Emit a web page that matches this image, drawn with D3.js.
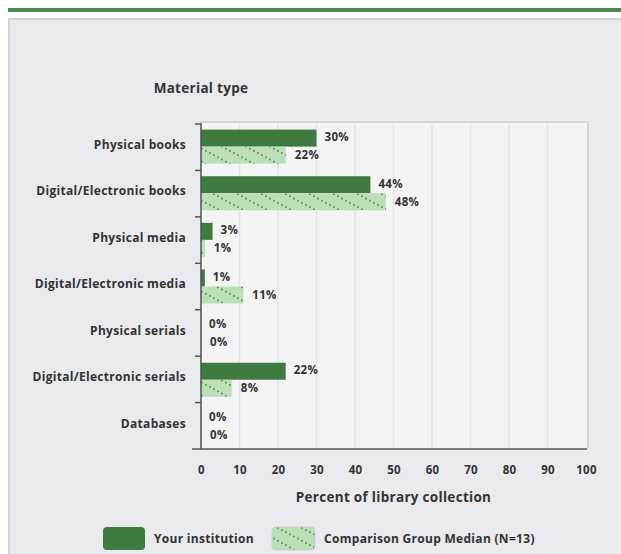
<!DOCTYPE html>
<html>
<head>
<meta charset="utf-8">
<script src="https://d3js.org/d3.v7.min.js"></script>
<style>
  body { margin: 0; background: #fff; }
  text { font-family: "Open Sans", Lato, sans-serif; font-weight: bold; fill: #333; letter-spacing: 0.3px; }
</style>
</head>
<body>
<script>
var categories = ["Physical books", "Digital/Electronic books", "Physical media",
  "Digital/Electronic media", "Physical serials", "Digital/Electronic serials", "Databases"];
var yourInstitution = [30, 44, 3, 1, 0, 22, 0];
var groupMedian = [22, 48, 1, 11, 0, 8, 0];
var xTicks = [0, 10, 20, 30, 40, 50, 60, 70, 80, 90, 100];
var seriesNames = ["Your institution", "Comparison Group Median (N=13)"];

var W = 621, H = 554;
var dark = "#3f7a40", light = "#bcdeb8";
var font = "'Open Sans', Lato, sans-serif";

var svg = d3.select("body").append("svg")
  .attr("width", W).attr("height", H);

// dotted diagonal hatch for comparison bars
var defs = svg.append("defs");
var pat = defs.append("pattern")
  .attr("id", "hatch").attr("patternUnits", "userSpaceOnUse")
  .attr("width", 24).attr("height", 13);
pat.append("rect").attr("width", 24).attr("height", 13).attr("fill", light);
d3.range(6).forEach(function(k) {
  pat.append("rect").attr("x", k * 4 + 1).attr("y", k * 13 / 6 + 0.5)
    .attr("width", 1.7).attr("height", 1.7).attr("fill", "#52914e");
});

// top green rule and panel
svg.append("rect").attr("x", 8).attr("y", 8).attr("width", W - 8).attr("height", 4).attr("fill", "#4e8a50");
svg.append("rect").attr("x", 8).attr("y", 18).attr("width", W - 8).attr("height", H - 18).attr("fill", "#d2d3d6");
svg.append("rect").attr("x", 10).attr("y", 20).attr("width", W - 10).attr("height", H - 20).attr("fill", "#e9eaee");

var pL = 201, pR = 586, pT = 124, pB = 449;

var x = d3.scaleLinear().domain([0, 100]).range([pL, pR]);
var y = d3.scaleBand().domain(categories).range([pT, pB]).paddingInner(0.27).paddingOuter(0.12);

// plot area
svg.append("rect").attr("x", pL - 1).attr("y", pT - 3).attr("width", pR - pL + 4).attr("height", pB - pT + 3)
  .attr("fill", "#d6d7da");
svg.append("rect").attr("x", pL).attr("y", pT - 1).attr("width", pR - pL + 1).attr("height", pB - pT + 1)
  .attr("fill", "#f4f4f5");

// gridlines
svg.append("g").selectAll("line").data(xTicks.slice(1, -1)).enter().append("line")
  .attr("x1", function(d) { return x(d); }).attr("x2", function(d) { return x(d); })
  .attr("y1", pT).attr("y2", pB)
  .attr("stroke", "#dfe4ee").attr("stroke-width", 1.5);

var bh = y.bandwidth() / 2;

// bars
svg.append("g").selectAll("rect").data(categories).enter().append("rect")
  .attr("x", x(0)).attr("y", function(d) { return y(d); })
  .attr("width", function(d, i) { return x(yourInstitution[i]) - x(0); })
  .attr("height", bh).attr("fill", dark);

svg.append("g").selectAll("rect").data(categories).enter().append("rect")
  .attr("x", x(0)).attr("y", function(d) { return y(d) + bh; })
  .attr("width", function(d, i) { return x(groupMedian[i]) - x(0); })
  .attr("height", bh).attr("fill", "url(#hatch)");

// value labels
svg.append("g").selectAll("text").data(categories).enter().append("text")
  .attr("x", function(d, i) { return x(yourInstitution[i]) + 8; })
  .attr("y", function(d) { return y(d) + bh / 2 - 1; })
  .attr("dy", "0.35em").attr("font-size", 11.5)
  .text(function(d, i) { return yourInstitution[i] + "%"; });

svg.append("g").selectAll("text").data(categories).enter().append("text")
  .attr("x", function(d, i) { return x(groupMedian[i]) + 9; })
  .attr("y", function(d) { return y(d) + bh * 1.5; })
  .attr("dy", "0.35em").attr("font-size", 11.5)
  .text(function(d, i) { return groupMedian[i] + "%"; });

// y axis
var yAxis = svg.append("g").attr("transform", "translate(" + pL + ",-2)")
  .call(d3.axisLeft(d3.scaleBand().domain(categories).range([pT, pB])).tickSize(0).tickPadding(15));
yAxis.select(".domain").remove();
yAxis.selectAll("text").attr("font-size", 12).attr("fill", "#333")
  .attr("font-family", font).attr("font-weight", "bold");
svg.append("line").attr("x1", pL).attr("x2", pL).attr("y1", pT - 1).attr("y2", pB)
  .attr("stroke", "#555").attr("stroke-width", 1.5);
// category separators
var sepY = d3.range(categories.length).map(function(i) { return pT + i * (pB - pT) / categories.length; });
svg.append("g").selectAll("line").data(sepY).enter().append("line")
  .attr("x1", pL - 6).attr("x2", pL).attr("y1", function(d) { return d; }).attr("y2", function(d) { return d; })
  .attr("stroke", "#555").attr("stroke-width", 1.5);

// x axis
svg.append("line").attr("x1", pL - 9).attr("x2", pR + 1).attr("y1", pB).attr("y2", pB)
  .attr("stroke", "#555").attr("stroke-width", 1.5);
var xAxis = svg.append("g").attr("transform", "translate(0," + (pB + 21) + ")")
  .call(d3.axisBottom(x).tickValues(xTicks).tickSize(0).tickPadding(0));
xAxis.select(".domain").remove();
xAxis.selectAll("text").attr("font-size", 11.5).attr("fill", "#333")
  .attr("font-family", font).attr("font-weight", "bold").attr("dy", "0.35em");

// titles
svg.append("text").attr("x", 201).attr("y", 93).attr("text-anchor", "middle").attr("font-size", 13.5)
  .text("Material type");
svg.append("text").attr("x", (pL + pR) / 2).attr("y", 502).attr("text-anchor", "middle").attr("font-size", 13.5)
  .text("Percent of library collection");

// legend
var legend = svg.append("g");
legend.append("rect").attr("x", 103).attr("y", 527).attr("width", 42).attr("height", 23).attr("rx", 4).attr("fill", dark);
legend.append("text").attr("x", 154).attr("y", 539).attr("dy", "0.35em").attr("font-size", 12).text(seriesNames[0]);
legend.append("rect").attr("x", 272).attr("y", 527).attr("width", 43).attr("height", 23).attr("rx", 4)
  .attr("fill", "url(#hatch)").attr("stroke", "#c7d6c4");
legend.append("text").attr("x", 324).attr("y", 539).attr("dy", "0.35em").attr("font-size", 12).text(seriesNames[1]);
</script>
</body>
</html>
